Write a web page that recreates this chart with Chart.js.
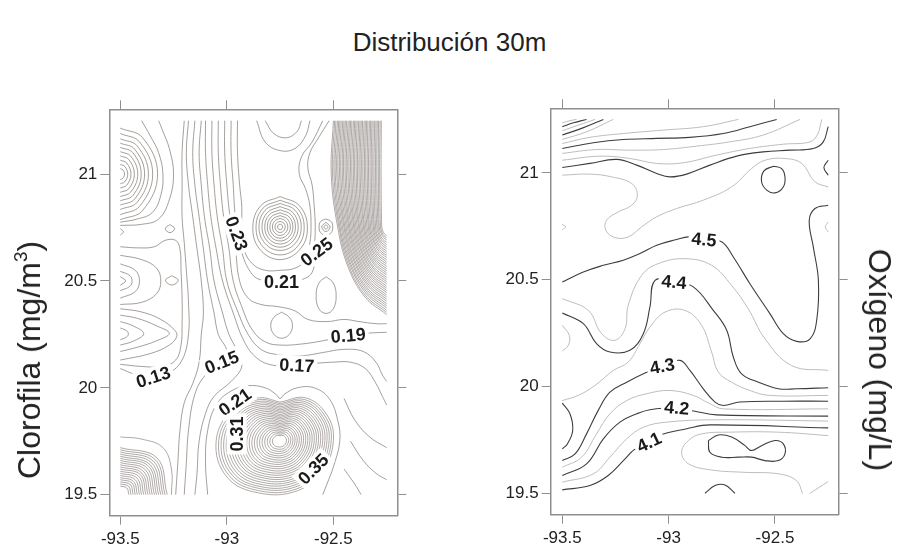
<!DOCTYPE html>
<html>
<head>
<meta charset="utf-8">
<script src="https://cdn.jsdelivr.net/npm/chart.js@4.4.0/dist/chart.umd.min.js"></script>
<style>
  body { margin: 0; background: #fff; width: 899px; height: 546px; overflow: hidden; position: relative;
         font-family: "Liberation Sans", Arial, sans-serif; color: #222; }
  #title { position: absolute; left: 0; width: 899px; top: 27px; line-height: 30px; text-align: center; font-size: 26px; }
  .wrap { position: absolute; top: 0; height: 546px; }
  .ytitle { position: absolute; font-size: 32px; white-space: nowrap; line-height: 38px; }
  .ytitle sup { font-size: 19px; vertical-align: 13px; line-height: 0; }
</style>
</head>
<body>
<div id="title">Distribución 30m</div>
<div class="wrap" style="left:0;width:449px"><canvas id="chl" width="449" height="546"></canvas></div>
<div class="wrap" style="left:449px;width:450px"><canvas id="oxy" width="450" height="546"></canvas></div>
<div class="ytitle" style="left:29px;top:360px;transform:translate(-50%,-50%) rotate(-90deg)">Clorofila (mg/m<sup>3</sup>)</div>
<div class="ytitle" style="left:880px;top:360px;transform:translate(-50%,-50%) rotate(90deg)">Oxígeno (mg/L)</div>
<script>
// axis ticks
const lonTicks = [-93.5, -93, -92.5];
const lonTickLabels = ['-93.5', '-93', '-92.5'];
const latTicks = [19.5, 20, 20.5, 21];
const latTickLabels = ['19.5', '20', '20.5', '21'];

// ---------- clorofila contours, [lon, lat] ----------
// closed rings on the west edge around 21.0
const chlRingsNW = [
  [[-93.5,21.025],[-93.488,21.02],[-93.48,21],[-93.488,20.98],[-93.5,20.975]],
  [[-93.5,21.045],[-93.479,21.036],[-93.465,21],[-93.479,20.964],[-93.5,20.955]],
  [[-93.5,21.065],[-93.47,21.052],[-93.45,21],[-93.47,20.948],[-93.5,20.935]],
  [[-93.5,21.085],[-93.46,21.068],[-93.434,21],[-93.46,20.932],[-93.5,20.915]],
  [[-93.5,21.105],[-93.451,21.084],[-93.418,21],[-93.451,20.916],[-93.5,20.895]],
  [[-93.5,21.125],[-93.441,21.1],[-93.402,21],[-93.441,20.9],[-93.5,20.875]],
  [[-93.5,21.145],[-93.432,21.116],[-93.386,21],[-93.432,20.884],[-93.5,20.855]],
  [[-93.5,21.165],[-93.421,21.132],[-93.368,21],[-93.421,20.868],[-93.5,20.835]],
  [[-93.5,21.19],[-93.409,21.15],[-93.348,21],[-93.409,20.85],[-93.5,20.81]],
  [[-93.5,21.215],[-93.395,21.17],[-93.325,21],[-93.395,20.83],[-93.5,20.787]],
  [[-93.5,20.775],[-93.42,20.79],[-93.35,20.82],[-93.31,20.9],[-93.3,21.0],[-93.32,21.1],[-93.36,21.18],[-93.4,21.25]],
  [[-93.5,20.76],[-93.4,20.765],[-93.32,20.79],[-93.27,20.88],[-93.25,21.0],[-93.27,21.12],[-93.3,21.2],[-93.32,21.25]]
];
// rings around the centre maximum
const chlRingsCenter = [
  [[-92.75,20.766],[-92.7415,20.762],[-92.738,20.753],[-92.7415,20.744],[-92.75,20.74],[-92.7585,20.744],[-92.762,20.753],[-92.7585,20.762],[-92.75,20.766]],
  [[-92.75,20.779],[-92.733,20.771],[-92.726,20.753],[-92.733,20.735],[-92.75,20.727],[-92.767,20.735],[-92.774,20.753],[-92.767,20.771],[-92.75,20.779]],
  [[-92.75,20.793],[-92.725,20.781],[-92.714,20.753],[-92.725,20.725],[-92.75,20.713],[-92.775,20.725],[-92.786,20.753],[-92.775,20.781],[-92.75,20.793]],
  [[-92.75,20.806],[-92.716,20.79],[-92.702,20.753],[-92.716,20.716],[-92.75,20.7],[-92.784,20.716],[-92.798,20.753],[-92.784,20.79],[-92.75,20.806]],
  [[-92.75,20.819],[-92.708,20.8],[-92.69,20.753],[-92.708,20.706],[-92.75,20.687],[-92.792,20.706],[-92.81,20.753],[-92.792,20.8],[-92.75,20.819]],
  [[-92.75,20.833],[-92.699,20.81],[-92.678,20.753],[-92.699,20.696],[-92.75,20.673],[-92.801,20.696],[-92.822,20.753],[-92.801,20.81],[-92.75,20.833]],
  [[-92.75,20.848],[-92.69,20.82],[-92.665,20.753],[-92.69,20.686],[-92.75,20.658],[-92.81,20.686],[-92.835,20.753],[-92.81,20.82],[-92.75,20.848]],
  [[-92.75,20.863],[-92.68,20.831],[-92.651,20.753],[-92.68,20.675],[-92.75,20.643],[-92.82,20.675],[-92.849,20.753],[-92.82,20.831],[-92.75,20.863]],
  [[-92.75,20.878],[-92.67,20.841],[-92.637,20.753],[-92.668,20.662],[-92.75,20.622],[-92.832,20.662],[-92.863,20.753],[-92.83,20.841],[-92.75,20.878]],
  [[-92.75,20.895],[-92.66,20.853],[-92.622,20.753],[-92.655,20.65],[-92.75,20.6],[-92.845,20.648],[-92.878,20.753],[-92.84,20.853],[-92.75,20.895]]
];
const chlRingsSmall = [
  [[-92.535,20.763],[-92.525,20.753],[-92.535,20.743],[-92.545,20.753],[-92.535,20.763]],
  [[-92.535,20.775],[-92.515,20.753],[-92.535,20.731],[-92.555,20.753],[-92.535,20.775]],
  [[-92.535,20.79],[-92.51,20.778],[-92.503,20.753],[-92.51,20.726],[-92.535,20.714],[-92.56,20.726],[-92.567,20.753],[-92.56,20.778],[-92.535,20.79]]
];
// dense maximum on the east edge
const chlDenseNE = [
  [[-92.5,21.25],[-92.51,21.0],[-92.48,20.753],[-92.43,20.563],[-92.35,20.423],[-92.25,20.343]],
  [[-92.494,21.25],[-92.504,21.0],[-92.474,20.753],[-92.426,20.568],[-92.348,20.431],[-92.25,20.353]],
  [[-92.488,21.25],[-92.497,21.0],[-92.469,20.753],[-92.421,20.573],[-92.345,20.44],[-92.25,20.363]],
  [[-92.481,21.25],[-92.491,21.0],[-92.463,20.753],[-92.417,20.577],[-92.343,20.448],[-92.25,20.374]],
  [[-92.475,21.25],[-92.484,21.0],[-92.457,20.753],[-92.412,20.582],[-92.34,20.456],[-92.25,20.384]],
  [[-92.469,21.25],[-92.478,21.0],[-92.451,20.753],[-92.408,20.587],[-92.338,20.464],[-92.25,20.394]],
  [[-92.463,21.25],[-92.471,21.0],[-92.446,20.753],[-92.403,20.592],[-92.335,20.473],[-92.25,20.405]],
  [[-92.456,21.25],[-92.465,21.0],[-92.44,20.753],[-92.399,20.596],[-92.333,20.481],[-92.25,20.415]],
  [[-92.45,21.25],[-92.458,21.0],[-92.434,20.753],[-92.394,20.601],[-92.33,20.489],[-92.25,20.425]],
  [[-92.444,21.25],[-92.452,21.0],[-92.428,20.753],[-92.39,20.606],[-92.328,20.497],[-92.25,20.435]],
  [[-92.438,21.25],[-92.445,21.0],[-92.423,20.753],[-92.385,20.61],[-92.325,20.505],[-92.25,20.446]],
  [[-92.431,21.25],[-92.439,21.0],[-92.417,20.753],[-92.381,20.615],[-92.323,20.514],[-92.25,20.456]],
  [[-92.425,21.25],[-92.432,21.0],[-92.411,20.753],[-92.376,20.62],[-92.32,20.522],[-92.25,20.466]],
  [[-92.419,21.25],[-92.426,21.0],[-92.405,20.753],[-92.372,20.625],[-92.318,20.53],[-92.25,20.476]],
  [[-92.413,21.25],[-92.419,21.0],[-92.4,20.753],[-92.367,20.63],[-92.315,20.538],[-92.25,20.487]],
  [[-92.406,21.25],[-92.413,21.0],[-92.394,20.753],[-92.363,20.634],[-92.313,20.547],[-92.25,20.497]],
  [[-92.4,21.25],[-92.406,21.0],[-92.388,20.753],[-92.358,20.639],[-92.31,20.555],[-92.25,20.507]],
  [[-92.394,21.25],[-92.4,21.0],[-92.382,20.753],[-92.354,20.644],[-92.308,20.563],[-92.25,20.517]],
  [[-92.388,21.25],[-92.393,21.0],[-92.377,20.753],[-92.349,20.649],[-92.305,20.572],[-92.25,20.528]],
  [[-92.381,21.25],[-92.387,21.0],[-92.371,20.753],[-92.345,20.653],[-92.303,20.58],[-92.25,20.538]],
  [[-92.375,21.25],[-92.38,21.0],[-92.365,20.753],[-92.34,20.658],[-92.3,20.588],[-92.25,20.548]],
  [[-92.369,21.25],[-92.374,21.0],[-92.359,20.753],[-92.336,20.663],[-92.298,20.596],[-92.25,20.558]],
  [[-92.363,21.25],[-92.367,21.0],[-92.354,20.753],[-92.331,20.668],[-92.295,20.604],[-92.25,20.569]],
  [[-92.356,21.25],[-92.361,21.0],[-92.348,20.753],[-92.327,20.672],[-92.293,20.613],[-92.25,20.579]],
  [[-92.35,21.25],[-92.354,21.0],[-92.342,20.753],[-92.322,20.677],[-92.29,20.621],[-92.25,20.589]],
  [[-92.344,21.25],[-92.348,21.0],[-92.336,20.753],[-92.318,20.682],[-92.288,20.629],[-92.25,20.599]],
  [[-92.338,21.25],[-92.341,21.0],[-92.331,20.753],[-92.313,20.687],[-92.285,20.638],[-92.25,20.61]],
  [[-92.331,21.25],[-92.335,21.0],[-92.325,20.753],[-92.309,20.691],[-92.283,20.646],[-92.25,20.62]],
  [[-92.325,21.25],[-92.328,21.0],[-92.319,20.753],[-92.304,20.696],[-92.28,20.654],[-92.25,20.63]],
  [[-92.319,21.25],[-92.322,21.0],[-92.313,20.753],[-92.3,20.701],[-92.278,20.662],[-92.25,20.64]],
  [[-92.313,21.25],[-92.315,21.0],[-92.308,20.753],[-92.295,20.706],[-92.275,20.671],[-92.25,20.651]],
  [[-92.306,21.25],[-92.309,21.0],[-92.302,20.753],[-92.291,20.71],[-92.273,20.679],[-92.25,20.661]],
  [[-92.3,21.25],[-92.302,21.0],[-92.296,20.753],[-92.286,20.715],[-92.27,20.687],[-92.25,20.671]],
  [[-92.294,21.25],[-92.296,21.0],[-92.29,20.753],[-92.282,20.72],[-92.268,20.695],[-92.25,20.681]],
  [[-92.288,21.25],[-92.289,21.0],[-92.285,20.753],[-92.277,20.725],[-92.265,20.704],[-92.25,20.692]],
  [[-92.281,21.25],[-92.283,21.0],[-92.279,20.753],[-92.273,20.729],[-92.263,20.712],[-92.25,20.702]],
  [[-92.275,21.25],[-92.276,21.0],[-92.273,20.753],[-92.268,20.734],[-92.26,20.72],[-92.25,20.712]]
];
// dense maximum in the south
const chlDenseS = [
  [[-92.75,19.933],[-92.63,19.953],[-92.53,19.873],[-92.5,19.753],[-92.55,19.613],[-92.67,19.518],[-92.85,19.508],[-93.0,19.583],[-93.05,19.753],[-92.97,19.903],[-92.85,19.953],[-92.75,19.933]],
  [[-92.75,19.926],[-92.635,19.945],[-92.539,19.868],[-92.51,19.753],[-92.558,19.619],[-92.673,19.527],[-92.846,19.518],[-92.99,19.59],[-93.038,19.753],[-92.961,19.897],[-92.846,19.945],[-92.75,19.926]],
  [[-92.75,19.919],[-92.64,19.937],[-92.548,19.863],[-92.52,19.753],[-92.566,19.624],[-92.676,19.537],[-92.842,19.528],[-92.98,19.597],[-93.026,19.753],[-92.952,19.891],[-92.842,19.937],[-92.75,19.919]],
  [[-92.75,19.911],[-92.644,19.929],[-92.556,19.859],[-92.53,19.753],[-92.574,19.63],[-92.68,19.546],[-92.838,19.537],[-92.97,19.603],[-93.014,19.753],[-92.944,19.885],[-92.838,19.929],[-92.75,19.911]],
  [[-92.75,19.904],[-92.649,19.921],[-92.565,19.854],[-92.54,19.753],[-92.582,19.635],[-92.683,19.556],[-92.834,19.547],[-92.96,19.61],[-93.002,19.753],[-92.935,19.879],[-92.834,19.921],[-92.75,19.904]],
  [[-92.75,19.897],[-92.654,19.913],[-92.574,19.849],[-92.55,19.753],[-92.59,19.641],[-92.686,19.565],[-92.83,19.557],[-92.95,19.617],[-92.99,19.753],[-92.926,19.873],[-92.83,19.913],[-92.75,19.897]],
  [[-92.75,19.89],[-92.659,19.905],[-92.583,19.844],[-92.56,19.753],[-92.598,19.647],[-92.689,19.574],[-92.826,19.567],[-92.94,19.624],[-92.978,19.753],[-92.917,19.867],[-92.826,19.905],[-92.75,19.89]],
  [[-92.75,19.883],[-92.664,19.897],[-92.592,19.839],[-92.57,19.753],[-92.606,19.652],[-92.692,19.584],[-92.822,19.577],[-92.93,19.631],[-92.966,19.753],[-92.908,19.861],[-92.822,19.897],[-92.75,19.883]],
  [[-92.75,19.875],[-92.668,19.889],[-92.6,19.835],[-92.58,19.753],[-92.614,19.658],[-92.696,19.593],[-92.818,19.586],[-92.92,19.637],[-92.954,19.753],[-92.9,19.855],[-92.818,19.889],[-92.75,19.875]],
  [[-92.75,19.868],[-92.673,19.881],[-92.609,19.83],[-92.59,19.753],[-92.622,19.663],[-92.699,19.603],[-92.814,19.596],[-92.91,19.644],[-92.942,19.753],[-92.891,19.849],[-92.814,19.881],[-92.75,19.868]],
  [[-92.75,19.861],[-92.678,19.873],[-92.618,19.825],[-92.6,19.753],[-92.63,19.669],[-92.702,19.612],[-92.81,19.606],[-92.9,19.651],[-92.93,19.753],[-92.882,19.843],[-92.81,19.873],[-92.75,19.861]],
  [[-92.75,19.854],[-92.683,19.865],[-92.627,19.82],[-92.61,19.753],[-92.638,19.675],[-92.705,19.621],[-92.806,19.616],[-92.89,19.658],[-92.918,19.753],[-92.873,19.837],[-92.806,19.865],[-92.75,19.854]],
  [[-92.75,19.847],[-92.688,19.857],[-92.636,19.815],[-92.62,19.753],[-92.646,19.68],[-92.708,19.631],[-92.802,19.626],[-92.88,19.665],[-92.906,19.753],[-92.864,19.831],[-92.802,19.857],[-92.75,19.847]],
  [[-92.75,19.839],[-92.692,19.849],[-92.644,19.811],[-92.63,19.753],[-92.654,19.686],[-92.712,19.64],[-92.798,19.635],[-92.87,19.671],[-92.894,19.753],[-92.856,19.825],[-92.798,19.849],[-92.75,19.839]],
  [[-92.75,19.832],[-92.697,19.841],[-92.653,19.806],[-92.64,19.753],[-92.662,19.691],[-92.715,19.65],[-92.794,19.645],[-92.86,19.678],[-92.882,19.753],[-92.847,19.819],[-92.794,19.841],[-92.75,19.832]],
  [[-92.75,19.825],[-92.702,19.833],[-92.662,19.801],[-92.65,19.753],[-92.67,19.697],[-92.718,19.659],[-92.79,19.655],[-92.85,19.685],[-92.87,19.753],[-92.838,19.813],[-92.79,19.833],[-92.75,19.825]],
  [[-92.75,19.818],[-92.707,19.825],[-92.671,19.796],[-92.66,19.753],[-92.678,19.703],[-92.721,19.668],[-92.786,19.665],[-92.84,19.692],[-92.858,19.753],[-92.829,19.807],[-92.786,19.825],[-92.75,19.818]],
  [[-92.75,19.811],[-92.712,19.817],[-92.68,19.791],[-92.67,19.753],[-92.686,19.708],[-92.724,19.678],[-92.782,19.675],[-92.83,19.699],[-92.846,19.753],[-92.82,19.801],[-92.782,19.817],[-92.75,19.811]],
  [[-92.75,19.803],[-92.716,19.809],[-92.688,19.787],[-92.68,19.753],[-92.694,19.714],[-92.728,19.687],[-92.778,19.684],[-92.82,19.705],[-92.834,19.753],[-92.812,19.795],[-92.778,19.809],[-92.75,19.803]],
  [[-92.75,19.796],[-92.721,19.801],[-92.697,19.782],[-92.69,19.753],[-92.702,19.719],[-92.731,19.697],[-92.774,19.694],[-92.81,19.712],[-92.822,19.753],[-92.803,19.789],[-92.774,19.801],[-92.75,19.796]],
  [[-92.75,19.789],[-92.726,19.793],[-92.706,19.777],[-92.7,19.753],[-92.71,19.725],[-92.734,19.706],[-92.77,19.704],[-92.8,19.719],[-92.81,19.753],[-92.794,19.783],[-92.77,19.793],[-92.75,19.789]],
  [[-92.75,19.782],[-92.731,19.785],[-92.715,19.772],[-92.71,19.753],[-92.718,19.731],[-92.737,19.715],[-92.766,19.714],[-92.79,19.726],[-92.798,19.753],[-92.785,19.777],[-92.766,19.785],[-92.75,19.782]],
  [[-92.75,19.775],[-92.736,19.777],[-92.724,19.767],[-92.72,19.753],[-92.726,19.736],[-92.74,19.725],[-92.762,19.724],[-92.78,19.733],[-92.786,19.753],[-92.776,19.771],[-92.762,19.777],[-92.75,19.775]]
];
// dense maximum in the south-west corner
const chlDenseSW = [
  [[-93.5,19.72],[-93.328,19.672],[-93.28,19.5]],
  [[-93.5,19.71],[-93.336,19.664],[-93.29,19.5]],
  [[-93.5,19.7],[-93.344,19.656],[-93.3,19.5]],
  [[-93.5,19.69],[-93.352,19.648],[-93.31,19.5]],
  [[-93.5,19.68],[-93.36,19.64],[-93.32,19.5]],
  [[-93.5,19.67],[-93.367,19.633],[-93.33,19.5]],
  [[-93.5,19.66],[-93.375,19.625],[-93.34,19.5]],
  [[-93.5,19.65],[-93.383,19.617],[-93.35,19.5]],
  [[-93.5,19.64],[-93.391,19.609],[-93.36,19.5]],
  [[-93.5,19.63],[-93.399,19.601],[-93.37,19.5]],
  [[-93.5,19.62],[-93.406,19.594],[-93.38,19.5]],
  [[-93.5,19.61],[-93.414,19.586],[-93.39,19.5]],
  [[-93.5,19.6],[-93.422,19.578],[-93.4,19.5]],
  [[-93.5,19.59],[-93.43,19.57],[-93.41,19.5]],
  [[-93.5,19.58],[-93.438,19.562],[-93.42,19.5]],
  [[-93.5,19.57],[-93.445,19.555],[-93.43,19.5]],
  [[-93.5,19.56],[-93.453,19.547],[-93.44,19.5]],
  [[-93.5,19.55],[-93.461,19.539],[-93.45,19.5]],
  [[-93.5,19.54],[-93.469,19.531],[-93.46,19.5]],
  [[-93.5,19.77],[-93.4,19.76],[-93.3,19.72],[-93.26,19.62],[-93.26,19.5]]
];
// small lows on the west side
const chlLowsW = [
  [[-93.5,20.28],[-93.47,20.267],[-93.462,20.253],[-93.47,20.238],[-93.5,20.225]],
  [[-93.5,20.31],[-93.44,20.29],[-93.39,20.253],[-93.44,20.218],[-93.5,20.2]],
  [[-93.5,20.34],[-93.42,20.325],[-93.33,20.29],[-93.27,20.255],[-93.33,20.22],[-93.42,20.19],[-93.5,20.17]],
  [[-93.5,20.37],[-93.4,20.355],[-93.31,20.32],[-93.245,20.27],[-93.235,20.24],[-93.27,20.2],[-93.36,20.16],[-93.5,20.13]],
  [[-93.5,20.52],[-93.475,20.5],[-93.5,20.48]],
  [[-93.5,20.545],[-93.455,20.525],[-93.445,20.5],[-93.455,20.475],[-93.5,20.455]],
  [[-93.5,20.58],[-93.43,20.55],[-93.41,20.5],[-93.43,20.45],[-93.5,20.42]],
  [[-93.5,20.62],[-93.4,20.6],[-93.33,20.56],[-93.31,20.5],[-93.33,20.44],[-93.4,20.4],[-93.5,20.39]],
  [[-93.5,20.66],[-93.42,20.655],[-93.34,20.66],[-93.29,20.69],[-93.24,20.69],[-93.22,20.65],[-93.215,20.55],[-93.21,20.42],[-93.21,20.3],[-93.215,20.2],[-93.24,20.13],[-93.3,20.1],[-93.4,20.1],[-93.5,20.11]],
  [[-93.5,20.745],[-93.485,20.73],[-93.5,20.715]],
  [[-93.267,20.764],[-93.245,20.745],[-93.267,20.726],[-93.289,20.745],[-93.267,20.764]],
  [[-93.258,20.525],[-93.228,20.503],[-93.258,20.481],[-93.288,20.503],[-93.258,20.525]],
  [[-92.743,20.354],[-92.707,20.33],[-92.692,20.292],[-92.707,20.25],[-92.743,20.232],[-92.779,20.25],[-92.794,20.292],[-92.779,20.33],[-92.743,20.354]],
  [[-92.534,20.52],[-92.5,20.49],[-92.487,20.43],[-92.5,20.37],[-92.534,20.348],[-92.568,20.37],[-92.581,20.43],[-92.568,20.49],[-92.534,20.52]]
];
// the north-south band of mid values and its branches
const chlBand = [
  [[-93.5,20.09],[-93.43,20.063],[-93.345,20.05],[-93.27,20.07],[-93.21,20.13],[-93.18,20.25],[-93.18,20.4],[-93.19,20.55],[-93.2,20.68],[-93.21,20.8],[-93.21,20.95],[-93.21,21.1],[-93.2,21.25]],
  [[-93.18,21.25],[-93.19,21.1],[-93.18,20.95],[-93.16,20.8],[-93.14,20.65],[-93.12,20.5],[-93.11,20.35],[-93.12,20.25],[-93.13,20.12],[-93.16,20.02],[-93.2,19.93],[-93.22,19.8],[-93.23,19.65],[-93.24,19.5]],
  [[-93.15,21.25],[-93.16,21.1],[-93.15,20.95],[-93.13,20.8],[-93.11,20.65],[-93.09,20.5],[-93.06,20.35],[-93.04,20.25],[-93.0,20.17],[-93.03,20.11],[-93.1,20.06],[-93.15,19.97],[-93.18,19.8],[-93.19,19.65],[-93.2,19.5]],
  [[-93.12,21.25],[-93.13,21.1],[-93.12,20.95],[-93.105,20.8],[-93.08,20.65],[-93.06,20.5],[-93.02,20.35],[-92.99,20.25],[-92.95,20.17],[-92.93,20.1],[-92.98,20.03],[-93.06,19.96],[-93.1,19.88],[-93.13,19.75],[-93.14,19.6],[-93.15,19.5]],
  [[-93.1,21.25],[-93.1,21.1],[-93.09,20.95],[-93.075,20.8],[-93.05,20.65],[-93.02,20.5],[-92.97,20.35],[-92.92,20.22],[-92.86,20.14],[-92.78,20.105],[-92.672,20.105],[-92.58,20.115],[-92.5,20.12],[-92.42,20.12],[-92.35,20.09],[-92.3,20.02],[-92.27,19.96],[-92.25,19.92]],
  [[-93.07,21.25],[-93.07,21.1],[-93.06,20.95],[-93.045,20.8],[-93.02,20.65],[-93.0,20.5],[-92.95,20.36],[-92.9,20.25],[-92.84,20.18],[-92.76,20.155],[-92.65,20.15],[-92.55,20.165],[-92.45,20.18],[-92.36,20.17],[-92.3,20.12],[-92.27,20.06],[-92.25,20.03]],
  [[-93.04,21.25],[-93.04,21.1],[-93.03,20.95],[-93.015,20.8],[-92.99,20.65],[-92.97,20.5],[-92.93,20.38],[-92.88,20.27],[-92.82,20.215],[-92.75,20.2],[-92.65,20.205],[-92.55,20.22],[-92.43,20.245],[-92.35,20.255],[-92.25,20.26]],
  [[-93.01,21.25],[-93.01,21.1],[-93.0,20.95],[-92.985,20.8],[-92.96,20.65],[-92.94,20.5],[-92.9,20.42],[-92.84,20.39],[-92.76,20.38],[-92.68,20.36],[-92.62,20.32],[-92.53,20.31],[-92.45,20.32],[-92.38,20.31],[-92.3,20.3],[-92.25,20.3]],
  [[-92.98,21.25],[-92.98,21.1],[-92.97,20.95],[-92.96,20.8],[-92.935,20.65],[-92.88,20.53],[-92.82,20.5],[-92.743,20.495],[-92.67,20.5],[-92.6,20.54],[-92.59,20.65],[-92.585,20.75],[-92.59,20.85],[-92.6,20.95],[-92.62,21.03],[-92.61,21.1],[-92.57,21.17],[-92.52,21.25]],
  [[-92.95,21.25],[-92.95,21.1],[-92.94,20.95],[-92.93,20.85],[-92.93,20.75],[-92.92,20.65],[-92.88,20.58],[-92.82,20.55],[-92.75,20.55],[-92.68,20.56],[-92.63,20.6],[-92.61,20.68],[-92.605,20.75],[-92.61,20.85],[-92.63,20.93],[-92.66,21.0],[-92.65,21.08],[-92.6,21.15],[-92.55,21.25]],
  [[-92.82,21.25],[-92.78,21.19],[-92.72,21.17],[-92.67,21.2],[-92.65,21.25]],
  [[-92.86,21.25],[-92.82,21.15],[-92.75,21.11],[-92.68,21.12],[-92.63,21.18],[-92.61,21.25]]
];
// lines wrapping the southern maximum
const chlSouthEdges = [
  [[-93.09,19.5],[-93.1,19.65],[-93.09,19.8],[-93.05,19.92],[-92.98,19.985],[-92.9,20.01],[-92.82,20.0],[-92.77,19.97],[-92.75,19.95],[-92.73,19.97],[-92.67,20.0],[-92.59,20.0],[-92.52,19.95],[-92.48,19.85],[-92.47,19.75],[-92.5,19.63],[-92.53,19.55],[-92.55,19.5]],
  [[-92.45,19.95],[-92.4,19.85],[-92.33,19.77],[-92.25,19.72]],
  [[-92.42,19.75],[-92.36,19.66],[-92.3,19.6],[-92.25,19.57]],
  [[-92.45,19.62],[-92.4,19.55],[-92.37,19.5]]
];
const chlLabelText = ['0.23', '0.21', '0.25', '0.19', '0.17', '0.15', '0.13', '0.21', '0.31', '0.35'];
const chlLabelLon = [-92.954, -92.743, -92.578, -92.43, -92.672, -93.024, -93.345, -92.962, -92.954, -92.594];
const chlLabelLat = [20.722, 20.495, 20.636, 20.245, 20.105, 20.12, 20.05, 19.933, 19.784, 19.62];
const chlLabelAngle = [70, 0, -37, -5, 3, -22, -18, -35, -90, -45];

// ---------- oxigeno contours, [lon, lat] ----------
const oxDark = [
  [[-93.5,21.216],[-93.448,21.234],[-93.386,21.25]],
  [[-93.5,21.177],[-93.409,21.208],[-93.307,21.25]],
  [[-93.5,21.114],[-93.354,21.141],[-93.213,21.156],[-93.056,21.161],[-92.9,21.166],[-92.743,21.184],[-92.618,21.216],[-92.492,21.25]],
  [[-93.5,21.025],[-93.37,21.044],[-93.245,21.063],[-93.15,21.036],[-93.056,20.997],[-92.994,20.981],[-92.915,20.994],[-92.806,21.036],[-92.68,21.078],[-92.555,21.098],[-92.429,21.106],[-92.32,21.114],[-92.273,21.145],[-92.25,21.216]],
  [[-92.508,21.031],[-92.469,21.02],[-92.453,20.981],[-92.461,20.934],[-92.5,20.906],[-92.539,20.919],[-92.563,20.958],[-92.552,21.009],[-92.508,21.031]],
  [[-92.25,21.059],[-92.27,21.025],[-92.25,20.989]],
  [[-93.5,20.489],[-93.401,20.536],[-93.307,20.567],[-93.213,20.591],[-93.135,20.622],[-93.056,20.661],[-92.962,20.688],[-92.907,20.7],[-92.834,20.69],[-92.751,20.677],[-92.696,20.606],[-92.618,20.481],[-92.524,20.341],[-92.461,20.247],[-92.398,20.211],[-92.335,20.223],[-92.304,20.309],[-92.296,20.497],[-92.32,20.653],[-92.339,20.778],[-92.312,20.833],[-92.25,20.848]],
  [[-93.5,20.344],[-93.401,20.294],[-93.339,20.2],[-93.276,20.161],[-93.182,20.169],[-93.119,20.247],[-93.088,20.372],[-93.064,20.497],[-92.975,20.489],[-92.884,20.466],[-92.79,20.356],[-92.727,20.263],[-92.696,20.138],[-92.657,20.059],[-92.578,20.02],[-92.484,19.989],[-92.398,19.989],[-92.25,19.994]],
  [[-93.5,19.653],[-93.44,19.684],[-93.386,19.778],[-93.331,19.888],[-93.276,19.973],[-93.197,20.02],[-93.111,20.063],[-93.03,20.095],[-92.947,20.122],[-92.9,20.075],[-92.837,19.989],[-92.782,19.927],[-92.743,19.911],[-92.665,19.927],[-92.461,19.931],[-92.25,19.931]],
  [[-93.5,19.583],[-93.386,19.638],[-93.307,19.755],[-93.229,19.833],[-93.15,19.872],[-93.088,19.891],[-92.962,19.9],[-92.876,19.884],[-92.774,19.867],[-92.25,19.861]],
  [[-93.5,19.516],[-93.37,19.536],[-93.284,19.583],[-93.205,19.661],[-93.163,19.703],[-93.092,19.739],[-93.049,19.77],[-92.915,19.802],[-92.806,19.82],[-92.25,19.806]],
  [[-92.813,19.747],[-92.766,19.773],[-92.704,19.763],[-92.641,19.723],[-92.61,19.7],[-92.563,19.723],[-92.5,19.747],[-92.461,19.731],[-92.453,19.684],[-92.484,19.653],[-92.547,19.653],[-92.61,19.669],[-92.672,19.669],[-92.751,19.669],[-92.806,19.692],[-92.813,19.747]],
  [[-92.829,19.5],[-92.782,19.536],[-92.735,19.539],[-92.688,19.5]],
  [[-93.5,19.922],[-93.464,19.872],[-93.451,19.794],[-93.476,19.731],[-93.5,19.708]]
];
const oxLight = [
  [[-93.5,21.234],[-93.464,21.244],[-93.433,21.25]],
  [[-93.5,21.197],[-93.425,21.223],[-93.346,21.25]],
  [[-93.5,21.156],[-93.386,21.192],[-93.26,21.25]],
  [[-93.5,21.137],[-93.37,21.166],[-93.213,21.184],[-93.025,21.2],[-92.837,21.216],[-92.672,21.25]],
  [[-93.5,21.091],[-93.339,21.109],[-93.182,21.106],[-93.025,21.109],[-92.868,21.125],[-92.712,21.145],[-92.555,21.177],[-92.382,21.25]],
  [[-93.5,21.059],[-93.323,21.078],[-93.182,21.067],[-93.056,21.044],[-92.931,21.047],[-92.774,21.083],[-92.618,21.114],[-92.461,21.134],[-92.335,21.145],[-92.3,21.18],[-92.28,21.25]],
  [[-93.5,20.989],[-93.37,20.994],[-93.268,20.981],[-93.174,20.95],[-93.147,20.895],[-93.174,20.848],[-93.237,20.817],[-93.292,20.778],[-93.295,20.731],[-93.253,20.697],[-93.19,20.7],[-93.127,20.747],[-93.056,20.794],[-92.962,20.833],[-92.837,20.872],[-92.704,20.934],[-92.61,21.02],[-92.547,21.059],[-92.453,21.067],[-92.375,21.044],[-92.312,20.958],[-92.25,20.934]],
  [[-93.5,20.759],[-93.484,20.747],[-93.5,20.734]],
  [[-92.25,20.77],[-92.263,20.747],[-92.25,20.723]],
  [[-93.5,20.411],[-93.378,20.356],[-93.315,20.247],[-93.253,20.216],[-93.205,20.27],[-93.19,20.38],[-93.127,20.52],[-93.049,20.575],[-92.923,20.598],[-92.798,20.567],[-92.704,20.473],[-92.626,20.364],[-92.547,20.223],[-92.422,20.098],[-92.25,20.075]],
  [[-93.5,20.286],[-93.467,20.239],[-93.472,20.192],[-93.5,20.166]],
  [[-93.5,19.934],[-93.425,19.958],[-93.346,20.005],[-93.26,20.075],[-93.19,20.114],[-93.135,20.2],[-93.088,20.278],[-93.017,20.348],[-92.923,20.356],[-92.845,20.286],[-92.798,20.161],[-92.766,20.067],[-92.704,20.02],[-92.618,19.981],[-92.524,19.958],[-92.25,19.958]],
  [[-93.5,19.622],[-93.409,19.669],[-93.339,19.778],[-93.276,19.872],[-93.197,19.934],[-93.103,19.966],[-92.994,19.981],[-92.884,19.958],[-92.806,19.919],[-92.743,19.895],[-92.25,19.895]],
  [[-93.5,19.552],[-93.354,19.591],[-93.276,19.669],[-93.197,19.755],[-93.119,19.809],[-93.009,19.833],[-92.774,19.844],[-92.25,19.838]],
  [[-92.25,19.77],[-92.484,19.786],[-92.719,19.786],[-92.845,19.778],[-92.907,19.747],[-92.939,19.692],[-92.907,19.638],[-92.798,19.609],[-92.641,19.598],[-92.484,19.591],[-92.4,19.56],[-92.37,19.5]],
  [[-92.335,19.5],[-92.25,19.555]]
];
const oxLabelText = ['4.5', '4.4', '4.3', '4.2', '4.1'];
const oxLabelLon = [-92.834, -92.975, -93.03, -92.962, -93.092];
const oxLabelLat = [20.688, 20.489, 20.095, 19.9, 19.739];
const oxLabelAngle = [5, 5, -10, 5, -25];

// ---------- drawing ----------
function contour(points, color, width) {
  return {
    data: points.map(p => ({ x: p[0], y: p[1] })),
    showLine: true, borderColor: color, borderWidth: width,
    pointRadius: 0, pointHoverRadius: 0, tension: 0.4, fill: false
  };
}

const contourLabels = {
  id: 'contourLabels',
  afterDatasetsDraw(chart, args, opts) {
    const ctx = chart.ctx, sx = chart.scales.x, sy = chart.scales.y;
    ctx.save();
    ctx.font = 'bold 18px "Liberation Sans", Arial, sans-serif';
    ctx.textAlign = 'center';
    ctx.textBaseline = 'middle';
    opts.text.forEach((t, i) => {
      const w = ctx.measureText(t).width;
      ctx.save();
      ctx.translate(sx.getPixelForValue(opts.lon[i]), sy.getPixelForValue(opts.lat[i]));
      ctx.rotate(opts.angle[i] * Math.PI / 180);
      ctx.fillStyle = '#fff';
      ctx.fillRect(-w / 2 - 3, -10, w + 6, 20);
      ctx.fillStyle = '#1a1a1a';
      ctx.fillText(t, 0, 1);
      ctx.restore();
    });
    ctx.restore();
  }
};

function makeScales(xmin, xmax, ymin, ymax, box) {
  const tickFont = { family: '"Liberation Sans", Arial, sans-serif', size: 17 };
  const grid = { drawOnChartArea: false, drawTicks: true, tickLength: 9, color: '#8f8f8f', lineWidth: 1 };
  const border = { display: true, color: '#8f8f8f', width: 1.5 };
  const setLon = s => { s.ticks = lonTicks.map(v => ({ value: v })); };
  const setLat = s => { s.ticks = latTicks.map(v => ({ value: v })); };
  return {
    x: { type: 'linear', position: 'bottom', min: xmin, max: xmax, grid, border, afterBuildTicks: setLon,
         ticks: { font: tickFont, color: '#222', padding: 4, maxRotation: 0, autoSkip: false, callback: (v, i) => lonTickLabels[i] },
         afterFit: s => { s.height = box.bottom; } },
    x2: { type: 'linear', position: 'top', min: xmin, max: xmax, grid, border, afterBuildTicks: setLon,
          ticks: { display: false }, afterFit: s => { s.height = box.top; } },
    y: { type: 'linear', position: 'left', min: ymin, max: ymax, grid, border, afterBuildTicks: setLat,
         ticks: { font: tickFont, color: '#222', padding: 3, autoSkip: false, callback: (v, i) => latTickLabels[i] },
         afterFit: s => { s.width = box.left; } },
    y2: { type: 'linear', position: 'right', min: ymin, max: ymax, grid, border, afterBuildTicks: setLat,
          ticks: { display: false }, afterFit: s => { s.width = box.right; } }
  };
}

function baseOptions(scales, labels) {
  return {
    responsive: false, animation: false, devicePixelRatio: 1,
    layout: { padding: 0, autoPadding: false },
    events: [],
    plugins: { legend: { display: false }, tooltip: { enabled: false }, contourLabels: labels },
    scales: scales
  };
}

const chlColor = 'rgba(120,112,107,0.85)';
const chlDenseColor = 'rgba(112,103,98,0.8)';
const chlSets = []
  .concat(chlRingsNW, chlRingsCenter, chlRingsSmall, chlLowsW, chlBand, chlSouthEdges)
  .map(l => contour(l, chlColor, 0.8))
  .concat([].concat(chlDenseNE, chlDenseS, chlDenseSW).map(l => contour(l, chlDenseColor, 0.7)));

new Chart(document.getElementById('chl'), {
  type: 'scatter',
  data: { datasets: chlSets },
  options: baseOptions(
    makeScales(-93.5516, -92.2, 19.4016, 21.3033, { left: 109.3, right: 51.7, top: 109.3, bottom: 30.3 }),
    { text: chlLabelText, lon: chlLabelLon, lat: chlLabelLat, angle: chlLabelAngle }),
  plugins: [contourLabels]
});

const oxSets = oxLight.map(l => contour(l, '#bdbdbd', 1))
  .concat(oxDark.map(l => contour(l, '#3d3d3d', 1.1)));

new Chart(document.getElementById('oxy'), {
  type: 'scatter',
  data: { datasets: oxSets },
  options: baseOptions(
    makeScales(-93.5545, -92.2005, 19.3997, 21.302, { left: 101.7, right: 60.3, top: 108.3, bottom: 31.3 }),
    { text: oxLabelText, lon: oxLabelLon, lat: oxLabelLat, angle: oxLabelAngle }),
  plugins: [contourLabels]
});
</script>
</body>
</html>
